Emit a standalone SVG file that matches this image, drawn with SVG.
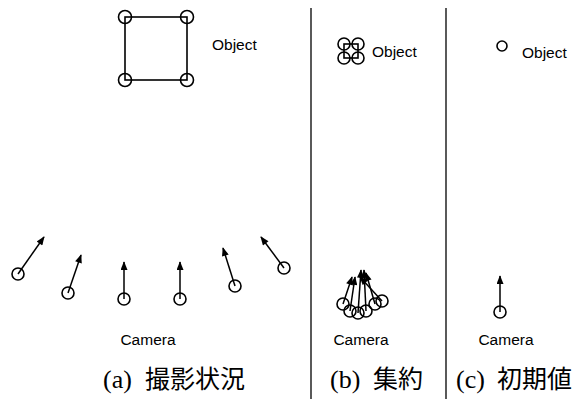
<svg xmlns="http://www.w3.org/2000/svg" width="585" height="399" viewBox="0 0 585 399">
<style>
.c{fill:none;stroke:#000;stroke-width:1.6}
.l{stroke:#000;stroke-width:1.6;fill:none}
.a{stroke:#000;stroke-width:1.5;fill:none;marker-end:url(#ah)}
.t{font-family:"Liberation Sans",Arial,sans-serif;font-size:15.5px;fill:#000}
.cap{font-family:"Liberation Serif","Noto Sans CJK JP",serif;font-size:26px;fill:#000}
.jp{font-family:"Noto Sans CJK JP","Liberation Serif",serif;font-size:25px;font-weight:400}
.div{stroke:#000;stroke-width:1.3}
</style>
<defs>
<marker id="ah" viewBox="0 0 10 8" refX="9" refY="4" markerWidth="10" markerHeight="7" markerUnits="userSpaceOnUse" orient="auto">
<path d="M0,0 L10,4 L0,8 Z" fill="#000"/>
</marker>
</defs>
<rect width="585" height="399" fill="#fff"/>
<g id="dividers">
<line class="div" x1="311" y1="8" x2="311" y2="399"/>
<line class="div" x1="446" y1="8" x2="446" y2="399"/>
</g>
<g id="object-a">
<rect class="l" x="125" y="17" width="62" height="63"/>
<circle class="c" cx="125" cy="17" r="6.5"/>
<circle class="c" cx="187" cy="17" r="6.5"/>
<circle class="c" cx="125" cy="80" r="6.5"/>
<circle class="c" cx="187" cy="80" r="6.5"/>
<text class="t" x="212" y="50">Object</text>
</g>
<g id="connectors">
<line class="a" x1="18" y1="274" x2="44" y2="237"/>
<line class="a" x1="68" y1="293" x2="81" y2="255"/>
<line class="a" x1="124" y1="299" x2="124" y2="262"/>
<line class="a" x1="180" y1="299" x2="180" y2="262"/>
<line class="a" x1="235" y1="286" x2="223" y2="248"/>
<line class="a" x1="284" y1="268" x2="261" y2="237"/>
<line class="a" x1="343" y1="304" x2="352" y2="277"/>
<line class="a" x1="350" y1="311" x2="355" y2="277"/>
<line class="a" x1="358" y1="313" x2="361" y2="270"/>
<line class="a" x1="366" y1="311" x2="364" y2="270"/>
<line class="a" x1="375" y1="304" x2="366" y2="273"/>
<line class="a" x1="382" y1="301" x2="360" y2="277"/>
<line class="a" x1="500" y1="312" x2="500" y2="276"/>
</g>
<g id="cameras-a">
<circle class="c" cx="18" cy="274" r="6"/>
<circle class="c" cx="68" cy="293" r="6"/>
<circle class="c" cx="124" cy="299" r="6"/>
<circle class="c" cx="180" cy="299" r="6"/>
<circle class="c" cx="235" cy="286" r="6"/>
<circle class="c" cx="284" cy="268" r="6"/>
<text class="t" x="148" y="345" text-anchor="middle">Camera</text>
</g>
<g id="object-b">
<rect class="l" x="344" y="44" width="14" height="14"/>
<circle class="c" cx="344" cy="44" r="6"/>
<circle class="c" cx="358" cy="44" r="6"/>
<circle class="c" cx="344" cy="58" r="6"/>
<circle class="c" cx="358" cy="58" r="6"/>
<text class="t" x="372" y="57">Object</text>
</g>
<g id="cameras-b">
<circle class="c" cx="343" cy="304" r="6"/>
<circle class="c" cx="350" cy="311" r="6"/>
<circle class="c" cx="358" cy="313" r="6"/>
<circle class="c" cx="366" cy="311" r="6"/>
<circle class="c" cx="375" cy="304" r="6"/>
<circle class="c" cx="382" cy="301" r="6"/>
<text class="t" x="361" y="345" text-anchor="middle">Camera</text>
</g>
<g id="object-c">
<circle class="c" cx="502" cy="46" r="5"/>
<text class="t" x="522" y="58">Object</text>
</g>
<g id="camera-c">
<circle class="c" cx="500" cy="312" r="6"/>
<text class="t" x="506" y="345" text-anchor="middle">Camera</text>
</g>
<g id="captions">
<text class="cap" x="103" y="388">(a) <tspan class="jp" x="145">撮影状況</tspan></text>
<text class="cap" x="330" y="388">(b) <tspan class="jp" x="373">集約</tspan></text>
<text class="cap" x="456" y="388">(c) <tspan class="jp" x="497">初期値</tspan></text>
</g>
</svg>
